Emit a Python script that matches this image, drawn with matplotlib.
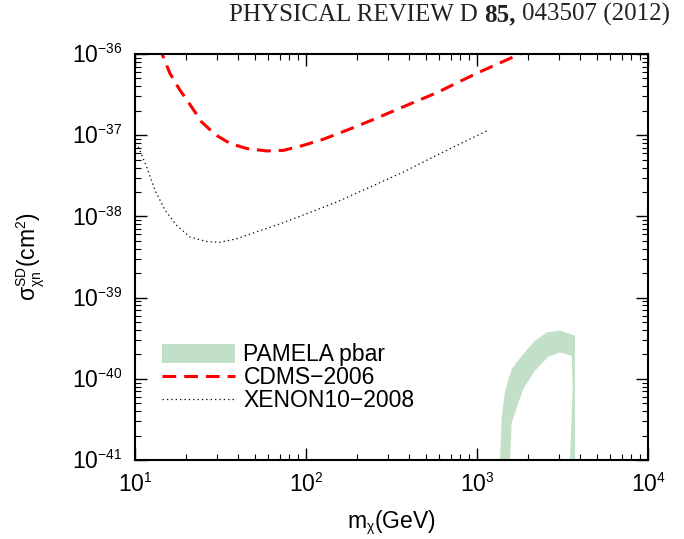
import numpy as np
import matplotlib
matplotlib.use("Agg")
import matplotlib.pyplot as plt
from matplotlib import _mathtext
from matplotlib.ticker import LogLocator, FuncFormatter, NullFormatter
from matplotlib.offsetbox import TextArea, HPacker, AnchoredOffsetbox

# CDMS-2006 limit (GeV, cm^2)
cdms_mass = [13.8, 14.4, 16.0, 18.3, 21.4, 24.5, 29.4, 36.0, 45.0, 58.9, 73.7,
             96.4, 126, 173, 248, 371, 581, 995, 1782, 2000]
cdms_sigma = [1.28e-36, 1.0e-36, 5.78e-37, 3.6e-37, 2.24e-37, 1.46e-37, 1.02e-37,
              7.9e-38, 6.86e-38, 6.4e-38, 6.5e-38, 7.5e-38, 8.9e-38, 1.15e-37,
              1.56e-37, 2.24e-37, 3.33e-37, 5.78e-37, 1.0e-36, 1.11e-36]

# XENON10-2008 limit
xenon_mass = [10.45, 11.7, 13.1, 15.0, 17.5, 21.0, 26.3, 31.4, 39.3, 51.4, 70.5,
              101, 151, 237, 371, 608, 1140]
xenon_sigma = [7.2e-38, 4.07e-38, 2.09e-38, 1.19e-38, 7.76e-39, 5.56e-39, 4.9e-39,
               4.8e-39, 5.3e-39, 6.45e-39, 8.1e-39, 1.08e-38, 1.5e-38, 2.3e-38,
               3.52e-38, 5.94e-38, 1.13e-37]

# PAMELA pbar band: outer edge then inner edge
pam_outer_mass = [1363, 1394, 1458, 1595, 1866, 2183, 2556, 3058, 3743, 3743]
pam_outer_sigma = [1e-41, 3.33e-41, 7.1e-41, 1.32e-40, 2.02e-40, 2.94e-40,
                   3.73e-40, 3.92e-40, 3.4e-40, 1e-41]
pam_inner_mass = [3499, 3628, 3579, 3058, 2612, 2183, 1866, 1595, 1560]
pam_inner_sigma = [1e-41, 7.8e-41, 1.92e-40, 2.11e-40, 1.87e-40, 1.26e-40,
                   7.5e-41, 2.88e-41, 1e-41]

# smaller superscripts, like the original figure
_mathtext.SHRINK_FACTOR = 0.6

plt.rcParams["font.family"] = ["Liberation Sans", "DejaVu Sans"]
plt.rcParams["mathtext.fontset"] = "custom"
plt.rcParams["mathtext.rm"] = "Liberation Sans"
plt.rcParams["mathtext.it"] = "Liberation Sans"
plt.rcParams["mathtext.bf"] = "Liberation Sans:bold"
plt.rcParams["mathtext.default"] = "regular"

fig = plt.figure(figsize=(6.84, 5.39), dpi=100)
ax = fig.add_axes([135 / 684, 1 - 460 / 539, 513 / 684, 406 / 539])

band_m = pam_outer_mass + pam_inner_mass
band_s = pam_outer_sigma + pam_inner_sigma
ax.fill(band_m, band_s, color="#c2dfc8", lw=0, label="PAMELA pbar")
ax.plot(cdms_mass, cdms_sigma, color="#ff0000", lw=2.2, dashes=(4.5, 2.6),
        label="CDMS\u22122006")
ax.plot(xenon_mass, xenon_sigma, color="#111111", lw=0.9, dashes=(1.1, 2.4),
        label="XENON10\u22122008")

ax.set_xscale("log")
ax.set_yscale("log")
ax.set_xlim(10, 1e4)
ax.set_ylim(1e-41, 1e-36)

fmt = FuncFormatter(lambda v, _: r"$10^{%d}$" % round(np.log10(v)))
for axis in (ax.xaxis, ax.yaxis):
    axis.set_major_locator(LogLocator(base=10, numticks=20))
    axis.set_minor_locator(LogLocator(base=10, subs=np.arange(2, 10), numticks=100))
    axis.set_major_formatter(fmt)
    axis.set_minor_formatter(NullFormatter())

ax.tick_params(which="both", direction="in", top=True, right=True, labelsize=16.5)
ax.tick_params(which="major", length=8.6, width=1.0)
ax.tick_params(which="minor", length=4.3, width=0.8)
ax.tick_params(axis="x", which="major", pad=10)
ax.tick_params(axis="y", which="major", pad=9)
for s in ax.spines.values():
    s.set_linewidth(1.5)

ax.set_xlabel(r"$m_{\chi}(GeV)$", fontsize=16.5)
ax.set_ylabel(r"$\sigma^{SD}_{\chi n}(cm^2)$", fontsize=16.5)
ax.yaxis.set_label_coords(-0.172, 0.5)
ax.xaxis.set_label_coords(0.5, -0.118)

ax.legend(loc="upper left", bbox_to_anchor=(0.035, 0.31), frameon=False,
          fontsize=16.5, handlelength=3.2, handleheight=0.85,
          handletextpad=0.35, labelspacing=0.0, borderaxespad=0)

serif = dict(family="Liberation Serif", size=18, color="#222222")
parts = [TextArea("PHYSICAL REVIEW D", textprops=serif),
         TextArea("85,", textprops=dict(serif, weight="bold")),
         TextArea("043507 (2012)", textprops=serif)]
header = AnchoredOffsetbox(loc="upper right", child=HPacker(children=parts, sep=4.5, pad=0),
                           bbox_to_anchor=(670 / 684, 1 - 3 / 539),
                           bbox_transform=fig.transFigure, frameon=False,
                           pad=0, borderpad=0)
fig.add_artist(header)

fig.savefig("out.png", dpi=100)
